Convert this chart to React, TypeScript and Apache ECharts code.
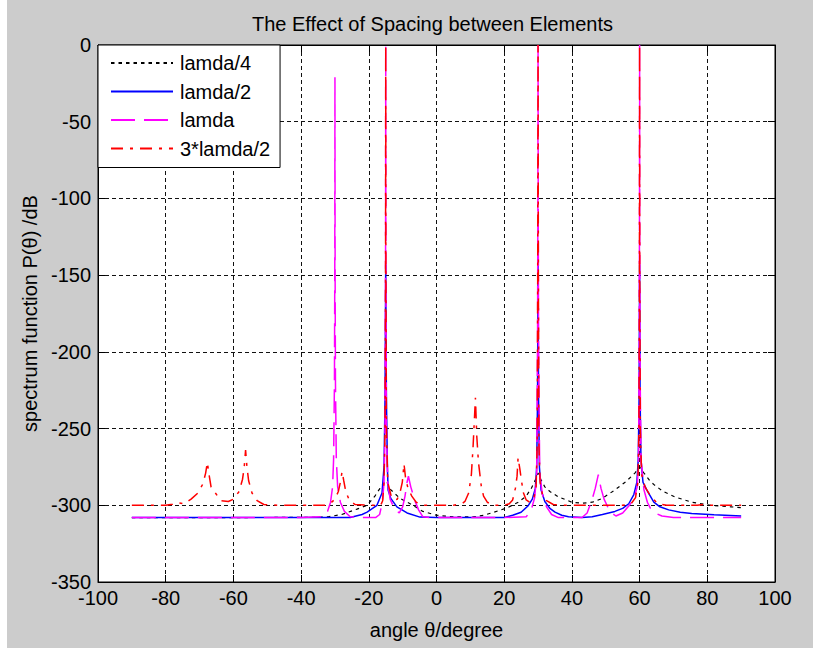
import React, { useEffect, useRef } from "react";
import * as echarts from "echarts";

const chartTitle = "The Effect of Spacing between Elements";
const xName = "angle θ/degree";
const yName = "spectrum function P(θ) /dB";
const seriesNames = ["lamda/4", "lamda/2", "lamda", "3*lamda/2"];

// lamda/4 (black dotted)
const lamda4: [number, number][] = [
  [-90, -308], [-60, -308], [-40, -307.9], [-35, -307.8], [-32, -307.5], [-28, -306],
  [-23.5, -302.5], [-20.5, -300], [-18.2, -294], [-16.7, -289], [-15.5, -285], [-15, -284],
  [-14.5, -285.5], [-13.7, -289.5], [-10.8, -295.5], [-7.8, -299], [-4, -304], [0, -306.5],
  [5, -307.5], [11, -307.6], [14, -306.5], [17, -304.5], [21, -301.5], [24.2, -298],
  [26.5, -294], [28, -289], [29.3, -283], [30, -279], [30.8, -283], [32, -288], [33.5, -291],
  [36, -294.5], [40, -298], [43, -298.7], [46, -298], [49, -295.5], [52.7, -290], [56, -284.5],
  [58.6, -279], [60, -275], [61.3, -279], [63, -284], [64.5, -287], [67, -291], [70.4, -294.5],
  [75.4, -298], [81, -300], [87, -301], [90, -301.5],
];

// lamda/2 (blue solid)
const lamda2: [number, number][] = [
  [-90, -308], [-40, -308], [-25.5, -308], [-22, -306], [-20.5, -304.5], [-17.6, -300],
  [-16.1, -292], [-15.5, -275], [-15.2, -230], [-15, -143], [-14.8, -230], [-14.5, -275],
  [-14.3, -290], [-13.5, -295.5], [-11.7, -301], [-8.7, -305], [-4.9, -307.7], [0, -308],
  [20, -308], [22.5, -306.5], [25, -304.5], [27, -300.5], [28.3, -296], [29.2, -289],
  [29.6, -275], [29.85, -230], [30, -143], [30.15, -230], [30.4, -275], [30.9, -290],
  [32, -297.5], [33.5, -302], [35, -304.5], [37, -306.5], [39, -307.5], [43, -308],
  [46, -307.5], [49, -306], [52.7, -304], [55, -302], [56.8, -299], [58.3, -293],
  [59.2, -285], [59.6, -270], [59.85, -230], [60, -143], [60.15, -230], [60.4, -270],
  [61, -285], [62.1, -290], [64.2, -298], [66, -301], [68.6, -303], [72, -304.5],
  [75.4, -305.3], [82, -306.2], [90, -307],
];

// lamda (magenta dashed)
const lamda1: [number, number][] = [
  [-90, -308], [-40, -308], [-33.5, -307.5], [-32.2, -304], [-31.3, -298], [-30.7, -288],
  [-30.4, -270], [-30.15, -220], [-30.05, -150], [-30, -21], [-29.95, -150], [-29.85, -220],
  [-29.6, -270], [-29.2, -288], [-28.4, -298], [-27.2, -304], [-25.5, -307.5], [-22, -308],
  [-18, -308], [-16.8, -306], [-16, -298], [-15.5, -285], [-15.2, -250], [-15.05, -150],
  [-15, 0], [-14.95, -150], [-14.8, -250], [-14.4, -285], [-13.7, -296], [-12.5, -302],
  [-11, -305], [-10, -301], [-9.3, -294], [-8.7, -285], [-8.3, -281], [-7.6, -288],
  [-6.4, -297], [-5.3, -303], [-4, -307.5], [-2, -308], [20, -308], [26.5, -307.5],
  [28, -303], [29, -295], [29.6, -280], [29.85, -200], [29.95, -100], [30, 0], [30.05, -100],
  [30.15, -200], [30.5, -280], [31.3, -293], [32.5, -301], [34, -306], [36, -308],
  [43, -308], [44.5, -305], [46, -296], [46.9, -289], [47.8, -280], [48.6, -289],
  [49.5, -296], [51.2, -304], [53, -307], [55, -305], [57, -300], [58.4, -295],
  [59.3, -288], [59.7, -270], [59.9, -200], [59.97, -100], [60, 0], [60.03, -100],
  [60.1, -200], [60.4, -270], [61.3, -290], [62.3, -298], [63.2, -302], [64.5, -305],
  [66.6, -307], [70, -308], [90, -308],
];

// 3*lamda/2 (red dash-dot)
const lamda32: [number, number][] = [
  [-90, -300], [-80, -300], [-78, -299.3], [-77, -298.3], [-76, -298.5], [-74.5, -299],
  [-72.5, -296], [-70.5, -292], [-69, -286], [-68.2, -279], [-67.7, -272], [-67.2, -280],
  [-66.6, -288], [-65, -293], [-63.6, -297], [-61.5, -297.5], [-60, -296], [-58.3, -291],
  [-57.3, -283], [-56.8, -275], [-56.4, -264], [-56, -275], [-55.5, -284], [-54.5, -292],
  [-53, -297], [-51, -299.5], [-47, -300], [-33, -300], [-31.5, -299], [-30, -296],
  [-29, -291], [-28.3, -284], [-27.9, -278], [-27.4, -284], [-26.8, -291], [-25.7, -297],
  [-24, -299.5], [-20, -300], [-16.5, -300], [-15.9, -297], [-15.5, -285], [-15.2, -250],
  [-15.05, -150], [-15, 0], [-14.95, -150], [-14.8, -250], [-14.4, -285], [-13.5, -293],
  [-12.5, -296.5], [-11.6, -296], [-10.8, -292], [-10.1, -285], [-9.6, -273], [-9.1, -283],
  [-8.4, -289], [-7.3, -294], [-6, -298], [-4, -300], [5, -300], [7.5, -299], [8.4, -297.5],
  [9.5, -292], [10.3, -280], [10.8, -262], [11.5, -230], [11.9, -255], [12.4, -272],
  [13.2, -287], [13.9, -294], [15, -298], [17, -300], [20, -300], [21.5, -299],
  [22.5, -296.5], [23.3, -289], [23.8, -281], [24.1, -269], [24.6, -276], [25.1, -284],
  [25.7, -292], [26.5, -296.5], [27.5, -298], [28.6, -296], [29.4, -290], [29.75, -260],
  [29.9, -150], [30, 0], [30.1, -150], [30.25, -260], [30.6, -285], [31.3, -293],
  [32.5, -297], [34.5, -299.5], [37, -300], [55, -300], [57.5, -299], [58.8, -295],
  [59.5, -285], [59.8, -250], [59.95, -150], [60, 0], [60.05, -150], [60.2, -250],
  [60.6, -280], [61.6, -288], [63.2, -294], [65.4, -299], [68, -300], [77, -300],
  [79, -299.5], [81, -300], [90, -300],
];

const FONT = "'Liberation Sans', Arial, Helvetica, sans-serif";

export default function App() {
  const ref = useRef<HTMLDivElement>(null);
  useEffect(() => {
    const chart = echarts.init(ref.current!, null, { renderer: "svg" });
    const xCommon = { type: "value", min: -100, max: 100, interval: 20 };
    const yCommon = { type: "value", min: -350, max: 0, interval: 50 };
    const axLine = { show: true, onZero: false, lineStyle: { color: "#000", width: 1 } };
    const tick = { show: true, inside: true, length: 7, lineStyle: { color: "#000", width: 1 } };
    const grid = { show: true, lineStyle: { color: "#111", width: 1, type: [4, 3] } };
    chart.setOption({
      animation: false,
      backgroundColor: "#cccccc",
      textStyle: { fontFamily: FONT },
      title: {
        text: chartTitle,
        left: 247,
        top: 9,
        textStyle: { fontSize: 20, fontWeight: "normal", color: "#000", fontFamily: FONT },
      },
      graphic: [
        { type: "rect", shape: { x: 0, y: 0, width: 7, height: 648 }, style: { fill: "#ffffff" } },
      ],
      grid: {
        left: 98, top: 45, width: 677, height: 537,
        show: true, backgroundColor: "#ffffff", borderColor: "#000", borderWidth: 1,
      },
      legend: {
        data: seriesNames,
        orient: "vertical",
        left: 98,
        top: 45,
        backgroundColor: "#ffffff",
        borderColor: "#000",
        borderWidth: 1,
        borderRadius: 0,
        padding: [8, 10, 9, 12],
        itemWidth: 62,
        itemHeight: 14,
        itemGap: 8.5,
        itemStyle: { opacity: 0, borderWidth: 0 },
        textStyle: { fontSize: 20, color: "#000", fontFamily: FONT, padding: [0, 0, 0, 2] },
      },
      xAxis: [
        {
          ...xCommon, position: "bottom", axisLine: axLine, axisTick: tick,
          axisLabel: { fontSize: 20, color: "#000", margin: 6, fontFamily: FONT },
          splitLine: grid,
          name: xName, nameLocation: "middle", nameGap: 38,
          nameTextStyle: { fontSize: 20, color: "#000", fontFamily: FONT },
        },
        {
          ...xCommon, position: "top", axisLine: axLine, axisTick: tick,
          axisLabel: { show: false }, splitLine: { show: false },
        },
      ],
      yAxis: [
        {
          ...yCommon, position: "left", axisLine: axLine, axisTick: tick,
          axisLabel: { fontSize: 20, color: "#000", margin: 7, fontFamily: FONT },
          splitLine: grid,
          name: yName, nameLocation: "middle", nameGap: 58,
          nameTextStyle: { fontSize: 20, color: "#000", fontFamily: FONT },
        },
        {
          ...yCommon, position: "right", axisLine: axLine, axisTick: tick,
          axisLabel: { show: false }, splitLine: { show: false },
        },
      ],
      series: [
        {
          name: seriesNames[0], type: "line", data: lamda4, symbol: "none", showSymbol: false,
          itemStyle: { color: "#000000" },
          lineStyle: { color: "#000000", width: 1.2, type: [3.5, 4] },
        },
        {
          name: seriesNames[1], type: "line", data: lamda2, symbol: "none", showSymbol: false,
          itemStyle: { color: "#0000ff" },
          lineStyle: { color: "#0000ff", width: 1.5, type: "solid" },
        },
        {
          name: seriesNames[2], type: "line", data: lamda1, symbol: "none", showSymbol: false,
          itemStyle: { color: "#ff00ff" },
          lineStyle: { color: "#ff00ff", width: 1.5, type: [24, 9] },
        },
        {
          name: seriesNames[3], type: "line", data: lamda32, symbol: "none", showSymbol: false,
          itemStyle: { color: "#ff0000" },
          lineStyle: { color: "#ff0000", width: 1.5, type: [12, 7, 3, 7] },
        },
      ],
    });
    return () => chart.dispose();
  }, []);
  return (
    <div
      ref={ref}
      style={{ position: "fixed", left: 0, top: 0, width: 813, height: 648 }}
    />
  );
}
